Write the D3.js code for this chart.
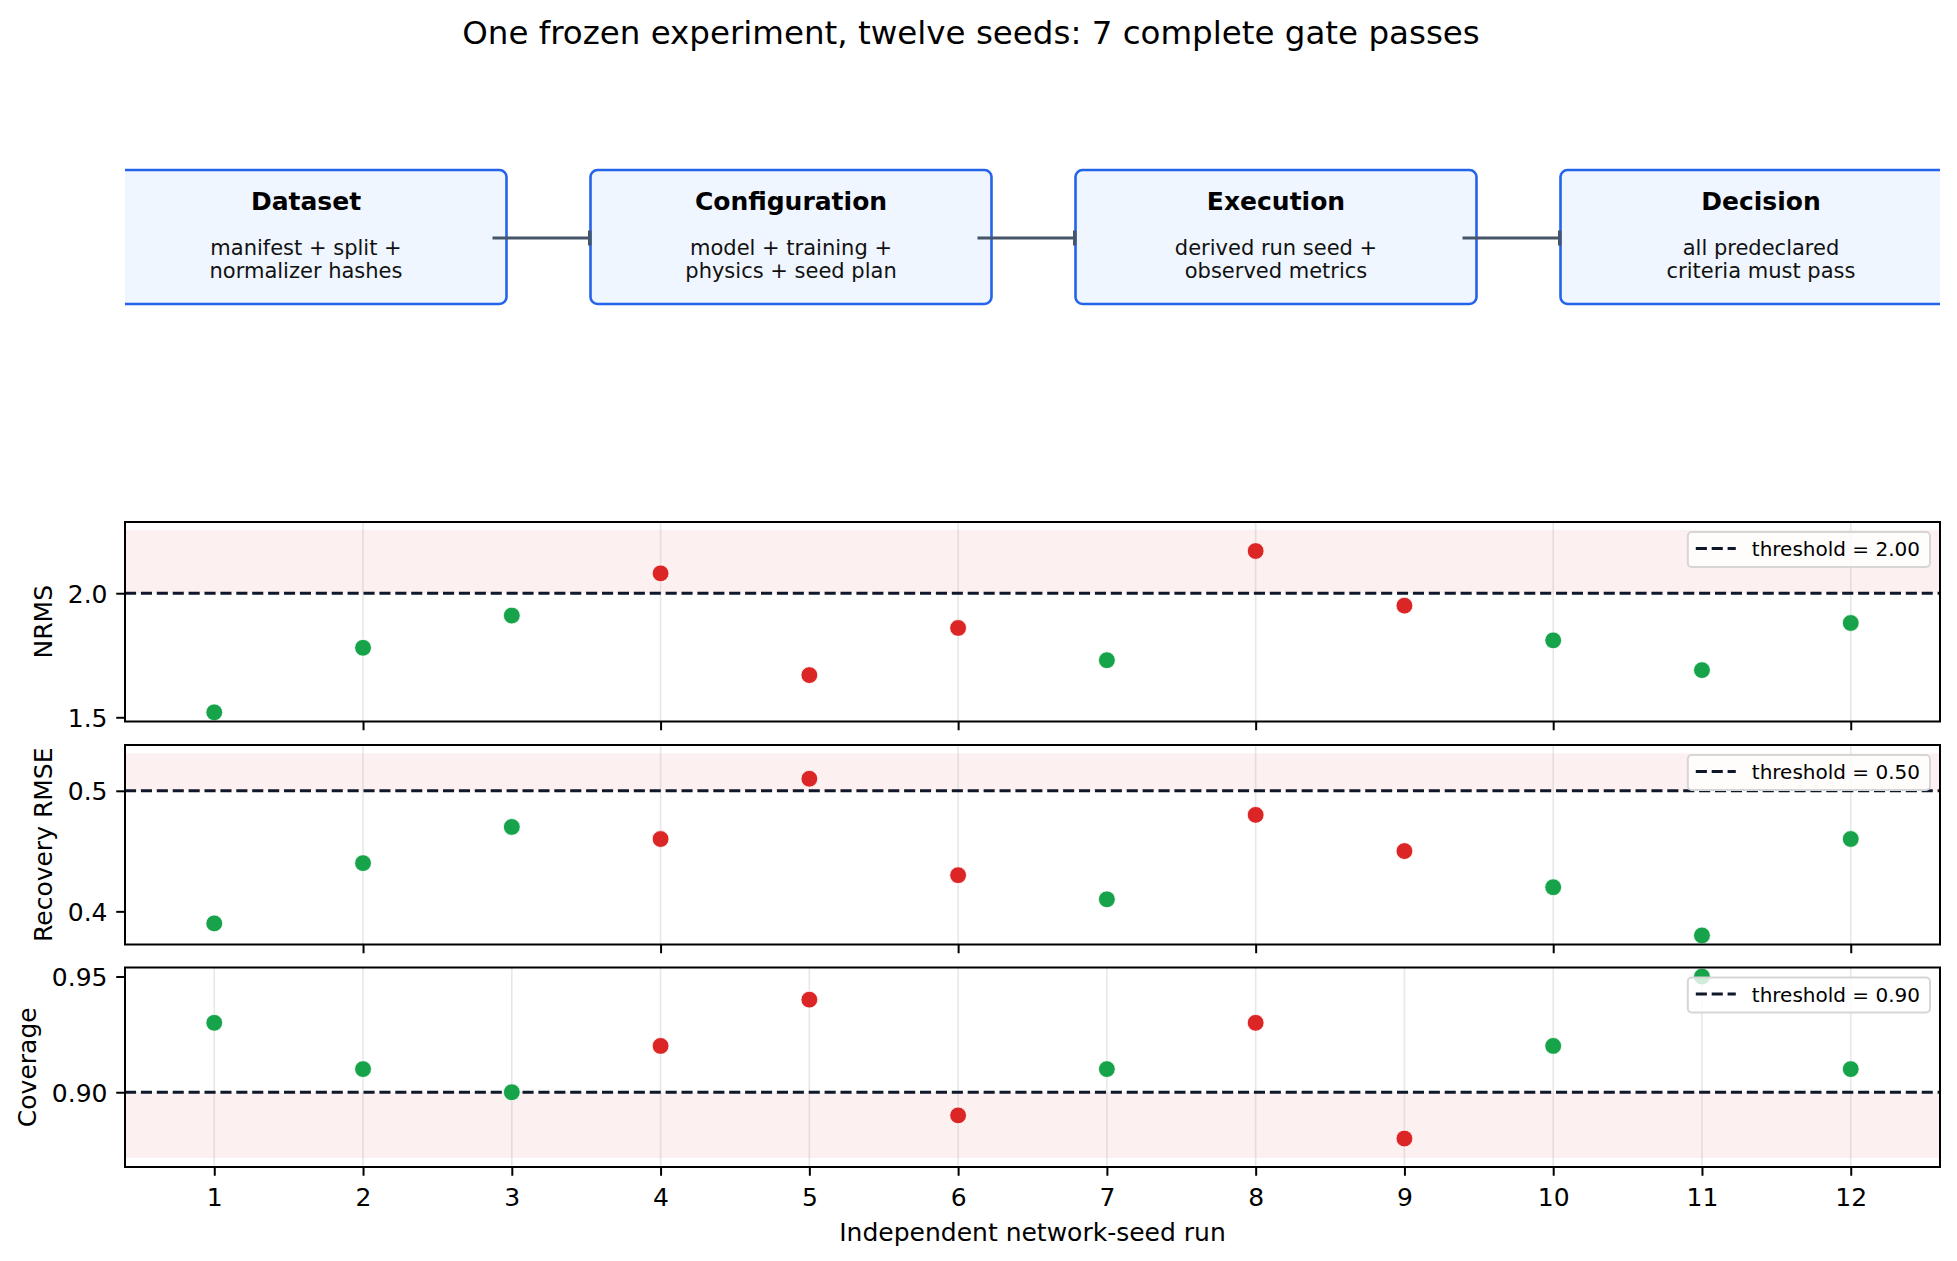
<!DOCTYPE html>
<html>
<head>
<meta charset="utf-8">
<script src="https://cdn.jsdelivr.net/npm/d3@7"></script>
<style>
  body { margin: 0; background: #fff; }
  svg { display: block; font-family: "DejaVu Sans", sans-serif; }
</style>
</head>
<body>
<svg id="chart"></svg>
<script>
// ---- data ----
const runs = [1, 2, 3, 4, 5, 6, 7, 8, 9, 10, 11, 12];
const nrms = [1.52, 1.78, 1.91, 2.08, 1.67, 1.86, 1.73, 2.17, 1.95, 1.81, 1.69, 1.88];
const recoveryRmse = [0.39, 0.44, 0.47, 0.46, 0.51, 0.43, 0.41, 0.48, 0.45, 0.42, 0.38, 0.46];
const coverage = [0.93, 0.91, 0.90, 0.92, 0.94, 0.89, 0.91, 0.93, 0.88, 0.92, 0.95, 0.91];

const metricNames = ["NRMS", "Recovery RMSE", "Coverage"];
const thresholds = [2.00, 0.50, 0.90];
const directions = ["max", "max", "min"];          // max: value must stay <= threshold
const failBands = [[2.00, 2.255], [0.50, 0.531], [0.8716, 0.90]];
const yDomains = [[1.483, 2.287], [0.3725, 0.538], [0.8677, 0.9539]];
const yTicks = [[1.5, 2.0], [0.4, 0.5], [0.90, 0.95]];
const yFormats = [".1f", ".1f", ".2f"];
const xTicksShared = [2, 4, 6, 8, 10, 12];

const stageNames = ["Dataset", "Configuration", "Execution", "Decision"];
const stageLines = [
  ["manifest + split +", "normalizer hashes"],
  ["model + training +", "physics + seed plan"],
  ["derived run seed +", "observed metrics"],
  ["all predeclared", "criteria must pass"]
];

const title = "One frozen experiment, twelve seeds: 7 complete gate passes";
const xLabel = "Independent network-seed run";

// ---- layout ----
const W = 1957, H = 1261;
const plotLeft = 125, plotRight = 1940;
const panelTops = [522, 745, 967.5];
const panelH = 199.5;
const FS = 25;
const PASS = "#16a34a", FAIL = "#dc2626";

const svg = d3.select("#chart").attr("width", W).attr("height", H);
const defs = svg.append("defs");

svg.append("text")
  .attr("x", 971).attr("y", 43.5)
  .attr("text-anchor", "middle")
  .style("font-size", "32.5px")
  .text(title);

// pass status per run: every criterion must hold
const series = [nrms, recoveryRmse, coverage];
const passed = runs.map((r, i) => series.every((vals, m) =>
  directions[m] === "max" ? vals[i] <= thresholds[m] : vals[i] >= thresholds[m]));

// ---- flow diagram ----
defs.append("clipPath").attr("id", "clip-flow")
  .append("rect").attr("x", plotLeft).attr("y", 0)
  .attr("width", plotRight - plotLeft).attr("height", 420);

const stageX = d3.scaleLinear().domain([0, stageNames.length - 1]).range([306, 1761]);
const boxW = 401, boxTop = 170, boxH = 134;

const flow = svg.append("g").attr("clip-path", "url(#clip-flow)");

const stage = flow.selectAll("g.stage")
  .data(stageNames)
  .enter()
  .append("g")
  .attr("class", "stage")
  .attr("transform", (d, i) => `translate(${stageX(i)},${boxTop})`);

stage.append("rect")
  .attr("x", -boxW / 2).attr("y", 0)
  .attr("width", boxW).attr("height", boxH)
  .attr("rx", 7)
  .attr("fill", "#eff6ff")
  .attr("stroke", "#2563eb")
  .attr("stroke-width", 2.6);

stage.append("text")
  .attr("y", 40)
  .attr("text-anchor", "middle")
  .style("font-size", "25px")
  .style("font-weight", "bold")
  .text(d => d);

stage.each(function(d, i) {
  const g = d3.select(this);
  stageLines[i].forEach((line, k) => {
    g.append("text")
      .attr("y", 85 + k * 22.5)
      .attr("text-anchor", "middle")
      .style("font-size", "21px")
      .attr("fill", "#111")
      .text(line);
  });
});

const arrows = flow.selectAll("g.arrow")
  .data(stageNames.slice(1))
  .enter()
  .append("g")
  .attr("class", "arrow");

arrows.append("line")
  .attr("x1", (d, i) => stageX(i) + boxW / 2 - 14)
  .attr("x2", (d, i) => stageX(i + 1) - boxW / 2)
  .attr("y1", boxTop + boxH / 2 + 1)
  .attr("y2", boxTop + boxH / 2 + 1)
  .attr("stroke", "#475569")
  .attr("stroke-width", 2.8);

arrows.append("rect")
  .attr("x", (d, i) => stageX(i + 1) - boxW / 2 - 2.5)
  .attr("y", boxTop + boxH / 2 + 1 - 7.5)
  .attr("width", 3.5).attr("height", 15)
  .attr("fill", "#475569");

// ---- metric panels ----
const x = d3.scaleLinear().domain([0.4, 12.6]).range([plotLeft, plotRight]);

metricNames.forEach((name, m) => {
  const top = panelTops[m];
  const y = d3.scaleLinear().domain(yDomains[m]).range([top + panelH, top]);
  const isLast = m === metricNames.length - 1;
  const xTicks = isLast ? runs : xTicksShared;

  defs.append("clipPath").attr("id", "clip-" + m)
    .append("rect").attr("x", plotLeft).attr("y", top)
    .attr("width", plotRight - plotLeft).attr("height", panelH);

  const g = svg.append("g");
  const inner = g.append("g").attr("clip-path", `url(#clip-${m})`);

  inner.append("rect")
    .attr("x", plotLeft).attr("width", plotRight - plotLeft)
    .attr("y", y(failBands[m][1]))
    .attr("height", y(failBands[m][0]) - y(failBands[m][1]))
    .attr("fill", FAIL).attr("fill-opacity", 0.07);

  inner.selectAll("line.grid")
    .data(xTicks)
    .enter()
    .append("line")
    .attr("class", "grid")
    .attr("x1", d => x(d)).attr("x2", d => x(d))
    .attr("y1", top).attr("y2", top + panelH)
    .attr("stroke", "#b0b0b0").attr("stroke-opacity", 0.3)
    .attr("stroke-width", 1.6);

  inner.append("line")
    .attr("x1", plotLeft).attr("x2", plotRight)
    .attr("y1", y(thresholds[m])).attr("y2", y(thresholds[m]))
    .attr("stroke", "#0f172a").attr("stroke-width", 3)
    .attr("stroke-dasharray", "11.1,4.8");

  inner.selectAll("circle")
    .data(runs)
    .enter()
    .append("circle")
    .attr("cx", d => x(d))
    .attr("cy", (d, i) => y(series[m][i]))
    .attr("r", 8.4)
    .attr("fill", (d, i) => passed[i] ? PASS : FAIL)
    .attr("stroke", "#fff").attr("stroke-width", 0.8);

  // y axis
  const yAxis = g.append("g")
    .attr("transform", `translate(${plotLeft},0)`)
    .call(d3.axisLeft(y).tickValues(yTicks[m]).tickFormat(d3.format(yFormats[m]))
      .tickSize(8.75).tickPadding(8.75));
  yAxis.select(".domain").remove();
  yAxis.selectAll("line").attr("stroke", "#000").attr("stroke-width", 2);
  yAxis.selectAll("text").style("font-size", FS + "px").attr("fill", "#000")
    .style("font-family", "DejaVu Sans").attr("dy", "0.36em");

  let labelLeft = Infinity;
  yAxis.selectAll("text").each(function() {
    labelLeft = Math.min(labelLeft, plotLeft + this.getBBox().x);
  });

  g.append("text")
    .attr("transform", `translate(${labelLeft - 16},${top + panelH / 2}) rotate(-90)`)
    .attr("text-anchor", "middle")
    .style("font-size", FS + "px")
    .text(name);

  // x axis
  const xAxis = g.append("g")
    .attr("transform", `translate(0,${top + panelH})`)
    .call(d3.axisBottom(x).tickValues(xTicks).tickFormat(isLast ? d3.format("d") : () => "")
      .tickSize(8.75).tickPadding(8.75));
  xAxis.select(".domain").remove();
  xAxis.selectAll("line").attr("stroke", "#000").attr("stroke-width", 2);
  xAxis.selectAll("text").style("font-size", FS + "px").attr("fill", "#000")
    .style("font-family", "DejaVu Sans").attr("dy", "0.86em");

  // frame
  g.append("rect")
    .attr("x", plotLeft).attr("y", top)
    .attr("width", plotRight - plotLeft).attr("height", panelH)
    .attr("fill", "none").attr("stroke", "#000").attr("stroke-width", 2);

  // legend
  const leg = g.append("g");
  const legText = leg.append("text")
    .style("font-size", "20px")
    .text("threshold = " + d3.format(".2f")(thresholds[m]));
  const legW = 64 + legText.node().getComputedTextLength() + 10;
  const legLeft = plotRight - 10 - legW, legTop = top + 10;
  legText.attr("x", legLeft + 64).attr("y", legTop + 24);
  leg.insert("rect", "text")
    .attr("x", legLeft).attr("y", legTop)
    .attr("width", legW).attr("height", 35)
    .attr("rx", 4)
    .attr("fill", "#fff").attr("fill-opacity", 0.8)
    .attr("stroke", "#d6d6d6").attr("stroke-width", 2);
  leg.append("line")
    .attr("x1", legLeft + 8).attr("x2", legLeft + 48)
    .attr("y1", legTop + 16.5).attr("y2", legTop + 16.5)
    .attr("stroke", "#0f172a").attr("stroke-width", 3)
    .attr("stroke-dasharray", "11.1,4.8");

  if (isLast) {
    g.append("text")
      .attr("x", (plotLeft + plotRight) / 2)
      .attr("y", 1241)
      .attr("text-anchor", "middle")
      .style("font-size", FS + "px")
      .text(xLabel);
  }
});
</script>
</body>
</html>
